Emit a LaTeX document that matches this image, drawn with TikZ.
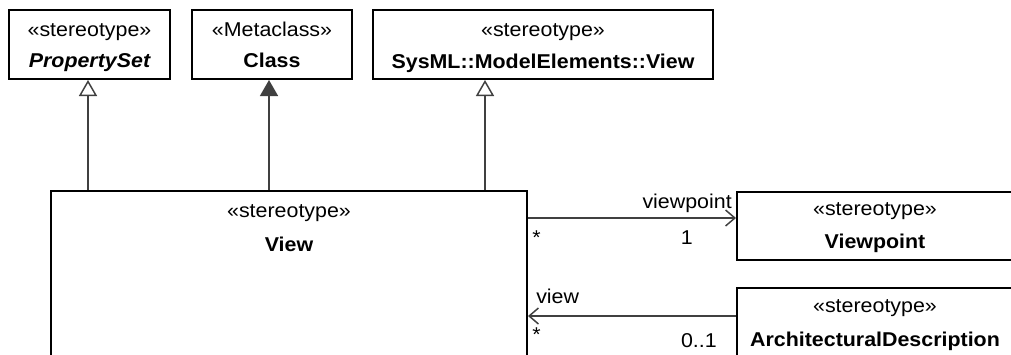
\documentclass[tikz,border=0pt]{standalone}
\usepackage{fontspec}
\setmainfont{Liberation Sans}
\usepackage{graphicx}
\usetikzlibrary{arrows.meta}
\definecolor{conn}{HTML}{404040}
\newcommand{\tx}[1]{\scalebox{1.07}[1]{#1}}
\begin{document}
\begin{tikzpicture}[x=0.75pt,y=-0.75pt,
  box/.style={draw=black, line width=1.5pt, rectangle, inner sep=0pt},
  lbl/.style={font=\fontsize{15}{18}\selectfont, inner sep=0pt, anchor=base},
  gen/.style={draw=conn, line width=1.1pt, -{Triangle[open, length=12pt, width=13.5pt, fill=white]}},
  real/.style={draw=conn, line width=1.1pt, -{Triangle[length=12pt, width=13.5pt, fill=conn]}},
  assoc/.style={draw=conn, line width=1.1pt, -{Straight Barb[length=7pt, width=12pt]}}]
\useasboundingbox (0,0) rectangle (1011,354);
\clip (0,0) rectangle (1011,354);
\fill[white] (0,0) rectangle (1011,354);

% boxes
\node[box, minimum width=120.75pt, minimum height=51.75pt] (ps) at (89.5,44.5) {};
\node[box, minimum width=120pt, minimum height=51.75pt] (cls) at (272,44.5) {};
\node[box, minimum width=255pt, minimum height=51.75pt] (sys) at (543,44.5) {};
\node[box, minimum width=357pt, minimum height=164.25pt] (view) at (289,300.5) {};
\node[box, minimum width=212.25pt, minimum height=51pt] (vp) at (878.5,226) {};
\node[box, minimum width=212.25pt, minimum height=99pt] (ad) at (878.5,354) {};

% texts
\node[lbl] (pst) at (89.5,36) {\tx{«stereotype»}};
\node[lbl] (psn) at (89.5,67) {\tx{\bfseries\itshape PropertySet}};
\node[lbl] (clt) at (272,36) {\tx{«Metaclass»}};
\node[lbl] (cln) at (272,67) {\tx{\bfseries Class}};
\node[lbl] (syt) at (543,36) {\tx{«stereotype»}};
\node[lbl] (syn) at (543,68) {\tx{\bfseries SysML::ModelElements::View}};
\node[lbl] (vwt) at (289,217) {\tx{«stereotype»}};
\node[lbl] (vwn) at (289,251) {\tx{\bfseries View}};
\node[lbl] (vpt) at (875,215) {\tx{«stereotype»}};
\node[lbl] (vpn) at (875,248) {\tx{\bfseries Viewpoint}};
\node[lbl] (adt) at (875,312) {\tx{«stereotype»}};
\node[lbl] (adn) at (875,346) {\tx{\bfseries ArchitecturalDescription}};

% generalizations
\coordinate (gx1) at (88,0);
\coordinate (gx2) at (269,0);
\coordinate (gx3) at (485,0);
\draw[gen] (view.north -| gx1) -- (ps.south -| gx1);
\draw[real] (view.north -| gx2) -- (cls.south -| gx2);
\draw[gen] (view.north -| gx3) -- (sys.south -| gx3);

% associations
\coordinate (ay1) at (0,218);
\coordinate (ay2) at (0,316);
\draw[assoc] (view.east |- ay1) -- (vp.west |- ay1);
\draw[assoc] (ad.west |- ay2) -- (view.east |- ay2);

% association labels
\node[lbl, anchor=base east] (l1) at (732,208) {\tx{viewpoint}};
\node[lbl, anchor=base west] (m1) at (532,244) {\tx{*}};
\node[lbl, anchor=base east] (n1) at (693,244) {\tx{1}};
\node[lbl, anchor=base west] (l2) at (536,303) {\tx{view}};
\node[lbl, anchor=base west] (m2) at (532,341) {\tx{*}};
\node[lbl, anchor=base east] (n2) at (717,347) {\tx{0..1}};
\end{tikzpicture}
\end{document}
